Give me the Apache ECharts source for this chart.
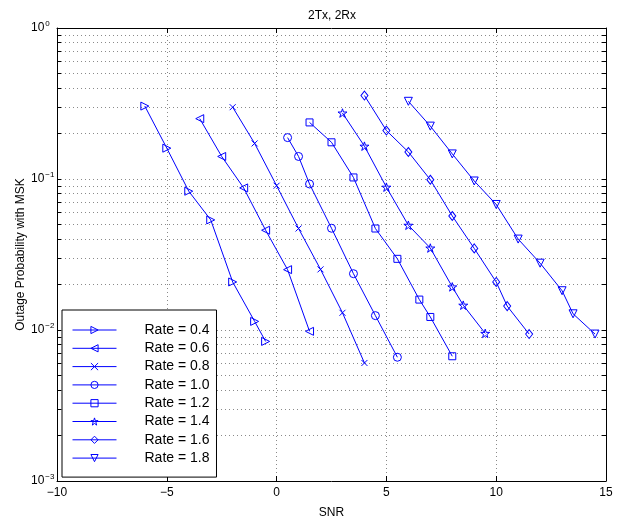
<!DOCTYPE html>
<html>
<head>
<meta charset="utf-8">
<title>2Tx, 2Rx</title>
<script src="https://cdn.jsdelivr.net/npm/echarts@6/dist/echarts.min.js"></script>
<style>
  html, body { margin: 0; padding: 0; background: #fff; }
  #myChart { width: 623px; height: 516px; }
</style>
</head>
<body>
<div id="myChart"></div>
<script>
// SNR values and outage probability, one pair per rate
var snr04 = [-6, -5, -4, -3, -2, -1, -0.5];
var out04 = [0.304, 0.160, 0.083, 0.0536, 0.0208, 0.0114, 0.0084];
var snr06 = [-3.5, -2.5, -1.5, -0.5, 0.5, 1.5];
var out06 = [0.251, 0.141, 0.0873, 0.0458, 0.0251, 0.0098];
var snr08 = [-2, -1, 0, 1, 2, 3, 4];
var out08 = [0.299, 0.172, 0.0903, 0.047, 0.0252, 0.013, 0.00605];
var snr10 = [0.5, 1, 1.5, 2.5, 3.5, 4.5, 5.5];
var out10 = [0.188, 0.141, 0.0927, 0.0472, 0.0236, 0.01245, 0.0066];
var snr12 = [1.5, 2.5, 3.5, 4.5, 5.5, 6.5, 7, 8];
var out12 = [0.237, 0.175, 0.1024, 0.047, 0.0296, 0.0159, 0.0122, 0.0067];
var snr14 = [3, 4, 5, 6, 7, 8, 8.5, 9.5];
var out14 = [0.2735, 0.165, 0.0883, 0.0494, 0.0349, 0.0193, 0.0146, 0.0095];
var snr16 = [4, 5, 6, 7, 8, 9, 10, 10.5, 11.5];
var out16 = [0.357, 0.2094, 0.151, 0.0989, 0.0569, 0.0347, 0.0208, 0.0144, 0.0094];
var snr18 = [6, 7, 8, 9, 10, 11, 12, 13, 13.5, 14.5];
var out18 = [0.327, 0.224, 0.1466, 0.097, 0.0678, 0.040, 0.0277, 0.0182, 0.0128, 0.0094];

var rateNames = ['Rate = 0.4', 'Rate = 0.6', 'Rate = 0.8', 'Rate = 1.0',
                 'Rate = 1.2', 'Rate = 1.4', 'Rate = 1.6', 'Rate = 1.8'];

// axis ticks
var decadeTicks = [0.001, 0.01, 0.1, 1];
var minorSteps = [1, 2, 3, 4, 5, 6, 7, 8, 9];

var FONT = 'Liberation Sans, Arial, Helvetica, sans-serif';
var BLUE = '#0000ff';

function pairs(xs, ys) {
  return xs.map(function (x, i) { return [x, ys[i]]; });
}

// log grid positions 1..9 x each decade
var logTicks = [];
decadeTicks.slice(0, 3).forEach(function (d) {
  minorSteps.forEach(function (k) { logTicks.push(+(d * k).toPrecision(3)); });
});
logTicks.push(1);

// marker shapes (matlab style)
var STAR = 'path://M50,0L61,35L98,35L68,57L79,91L50,70L21,91L32,57L2,35L39,35Z';
var CROSS = 'path://M0,0L10,10M10,0L0,10';
var markers = [
  { symbol: 'triangle', size: 8, rotate: -90 },
  { symbol: 'triangle', size: 8, rotate: 90 },
  { symbol: CROSS, size: 6, rotate: 0 },
  { symbol: 'circle', size: 8, rotate: 0 },
  { symbol: 'rect', size: 7, rotate: 0 },
  { symbol: STAR, size: 9, rotate: 0 },
  { symbol: 'diamond', size: [7, 9], rotate: 0 },
  { symbol: 'triangle', size: 8, rotate: 180 }
];
var allData = [
  pairs(snr04, out04), pairs(snr06, out06), pairs(snr08, out08), pairs(snr10, out10),
  pairs(snr12, out12), pairs(snr14, out14), pairs(snr16, out16), pairs(snr18, out18)
];

var series = allData.map(function (d, i) {
  return {
    name: rateNames[i],
    type: 'line',
    data: d,
    symbol: markers[i].symbol,
    symbolSize: markers[i].size,
    symbolRotate: markers[i].rotate,
    symbolKeepAspect: true,
    showAllSymbol: true,
    animation: false,
    lineStyle: { color: BLUE, width: 1 },
    itemStyle: { color: 'rgba(255,255,255,0)', borderColor: BLUE, borderWidth: 1 },
    emphasis: { disabled: true }
  };
});

function expLabel(v) {
  var e = Math.round(Math.log10(v));
  return '{b|10}{s|' + (e < 0 ? '\u2212' + (-e) : e) + '}';
}

var gridLine = { show: true, lineStyle: { color: '#8a8a8a', width: 1, type: [1, 3] } };
var axisLine = { show: true, onZero: false, lineStyle: { color: '#000', width: 1 } };

var myChart = echarts.init(document.getElementById('myChart'));
myChart.setOption({
  backgroundColor: '#fff',
  textStyle: { fontFamily: FONT },
  title: {
    text: '2Tx, 2Rx',
    left: 303,
    top: 5,
    textStyle: { fontSize: 12, fontWeight: 'normal', color: '#000', fontFamily: FONT }
  },
  grid: { left: 57, right: 17, top: 28, bottom: 35, containLabel: false, outerBoundsMode: 'none' },
  legend: {
    orient: 'vertical',
    left: 62,
    top: 310,
    padding: [13, 7, 12, 10],
    itemGap: 4.3,
    itemWidth: 44,
    itemHeight: 9,
    borderColor: '#000',
    borderWidth: 1,
    backgroundColor: '#fff',
    selectedMode: false,
    data: rateNames,
    itemStyle: { color: 'rgba(255,255,255,0)', borderColor: BLUE, borderWidth: 1 },
    lineStyle: { color: BLUE, width: 1 },
    textStyle: { fontSize: 14, color: '#000', fontFamily: FONT, lineHeight: 14, padding: [0, 0, 0, 23] }
  },
  xAxis: [
    {
      type: 'value', min: -10, max: 15, interval: 5,
      name: 'SNR', nameLocation: 'middle', nameGap: 26, nameMoveOverlap: false,
      nameTextStyle: { fontSize: 12, color: '#000', fontFamily: FONT },
      axisLine: axisLine,
      axisTick: { show: true, inside: true, length: 5, lineStyle: { color: '#000' } },
      axisLabel: {
        fontSize: 12, color: '#000', margin: 6, fontFamily: FONT,
        formatter: function (v) { return String(v).replace('-', '\u2212'); }
      },
      splitLine: gridLine
    },
    {
      type: 'value', min: -10, max: 15, interval: 5, position: 'top',
      axisLine: axisLine,
      axisTick: { show: true, inside: true, length: 5, lineStyle: { color: '#000' } },
      axisLabel: { show: false },
      splitLine: { show: false }
    }
  ],
  yAxis: [
    {
      type: 'log', logBase: 10, min: 0.001, max: 1,
      name: 'Outage Probability with MSK', nameLocation: 'middle', nameGap: 30, nameMoveOverlap: false,
      nameTextStyle: { fontSize: 12, color: '#000', fontFamily: FONT },
      axisLine: axisLine,
      axisTick: { show: true, inside: true, length: 4, customValues: logTicks, lineStyle: { color: '#000' } },
      axisLabel: {
        customValues: decadeTicks, align: 'left', margin: 26,
        formatter: expLabel,
        rich: {
          b: { fontSize: 12, color: '#000', fontFamily: FONT },
          s: { fontSize: 8, color: '#000', fontFamily: FONT, padding: [0, 0, 9, 1] }
        }
      },
      splitLine: gridLine
    },
    {
      type: 'log', logBase: 10, min: 0.001, max: 1, position: 'right',
      axisLine: axisLine,
      axisTick: { show: true, inside: true, length: 4, customValues: logTicks, lineStyle: { color: '#000' } },
      axisLabel: { show: false },
      splitLine: { show: false }
    }
  ],
  series: series
});
</script>
</body>
</html>
